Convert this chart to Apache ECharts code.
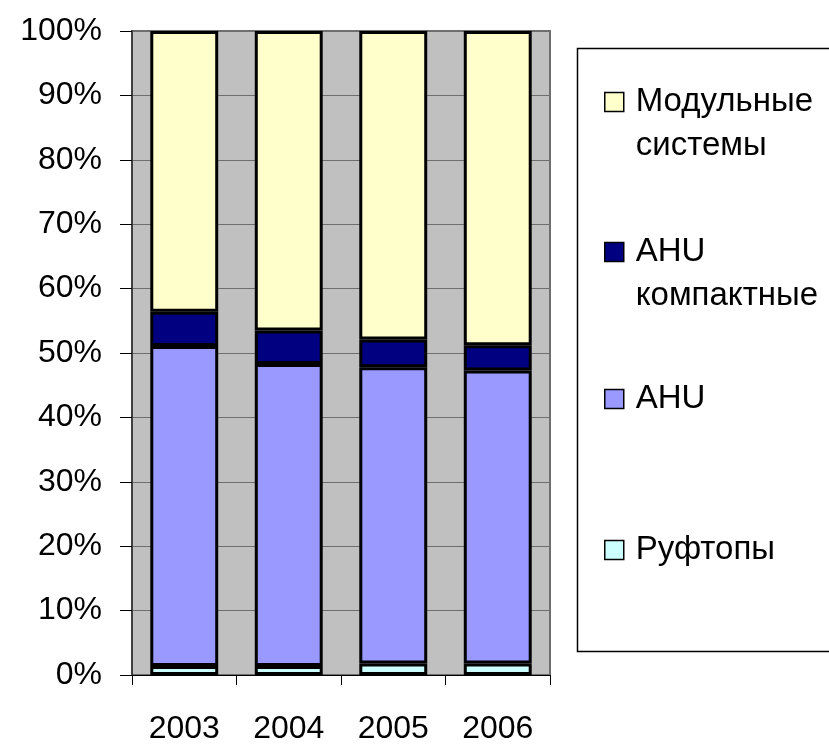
<!DOCTYPE html>
<html>
<head>
<meta charset="utf-8">
<script src="https://cdn.jsdelivr.net/npm/echarts@6/dist/echarts.min.js"></script>
<style>
html,body{margin:0;padding:0;background:#fff;}
#c{width:829px;height:745px;}
</style>
</head>
<body>
<div id="c"></div>
<script>
var categories = ['2003', '2004', '2005', '2006'];
var rooftop = [1.4, 1.4, 1.8, 1.8];
var ahu = [49.7, 46.9, 46.0, 45.5];
var ahuCompact = [5.3, 5.2, 4.3, 3.9];
var modular = [43.6, 46.5, 47.9, 48.8];
var yTicks = [0, 10, 20, 30, 40, 50, 60, 70, 80, 90, 100];

var names = {
  modular: 'Модульные системы',
  compact: 'AHU компактные',
  ahu: 'AHU',
  roof: 'Руфтопы'
};
var FONT = '"Liberation Sans", Arial, sans-serif';

function bar(name, data, color) {
  return {
    name: name, type: 'bar', stack: 'total', data: data,
    barCategoryGap: '35%',
    itemStyle: { color: color, borderColor: '#000', borderWidth: 3 }
  };
}

function legendItem(name, iconCenter, twoLine, color) {
  var lh = 44;
  // leading blank line keeps the first text line level with the icon
  var txt = twoLine ? ' \n' + name.replace(' ', '\n') : name;
  return {
    orient: 'vertical',
    left: 604,
    top: twoLine ? iconCenter - 66 : iconCenter - 22,
    padding: 0,
    itemWidth: 19,
    itemHeight: 19,
    icon: 'rect',
    selectedMode: false,
    data: [{ name: name, itemStyle: { color: color, borderColor: '#000', borderWidth: 1.5 } }],
    formatter: function () { return txt; },
    textStyle: {
      fontFamily: FONT, fontSize: 33, color: '#000', lineHeight: lh,
      padding: [0, 0, 0, 7]
    }
  };
}

var chart = echarts.init(document.getElementById('c'), null, { renderer: 'canvas' });
chart.setOption({
  animation: false,
  backgroundColor: '#fff',
  textStyle: { fontFamily: FONT },
  graphic: [{
    type: 'rect', z: -1,
    shape: { x: 577.5, y: 48.5, width: 320, height: 603 },
    style: { fill: '#fff', stroke: '#000', lineWidth: 1.5 }
  }],
  legend: [
    legendItem(names.modular, 102, true, '#FFFFCC'),
    legendItem(names.compact, 252, true, '#000080'),
    legendItem(names.ahu, 399, false, '#9999FF'),
    legendItem(names.roof, 550, false, '#CCFFFF')
  ],
  grid: {
    left: 132, top: 31, width: 418, height: 647,
    show: true, backgroundColor: '#C0C0C0', borderColor: '#6e6e6e', borderWidth: 2
  },
  xAxis: {
    type: 'category', data: categories,
    axisLine: { show: true, lineStyle: { color: '#000', width: 1 } },
    axisTick: { show: true, length: 10, lineStyle: { color: '#000' } },
    axisLabel: { fontSize: 32, color: '#000', margin: 38, fontFamily: FONT }
  },
  yAxis: {
    type: 'value', min: 0, max: 100, interval: 10,
    axisLine: { show: true, lineStyle: { color: '#404040', width: 2 } },
    axisTick: { show: true, length: 12, lineStyle: { color: '#000' } },
    axisLabel: {
      fontSize: 32, color: '#000', margin: 30, fontFamily: FONT,
      formatter: function (v) { return yTicks.indexOf(v) >= 0 ? v + '%' : ''; }
    },
    splitLine: { show: true, lineStyle: { color: '#6e6e6e', width: 1 } }
  },
  series: [
    bar(names.roof, rooftop, '#CCFFFF'),
    bar(names.ahu, ahu, '#9999FF'),
    bar(names.compact, ahuCompact, '#000080'),
    bar(names.modular, modular, '#FFFFCC')
  ]
});
</script>
</body>
</html>
